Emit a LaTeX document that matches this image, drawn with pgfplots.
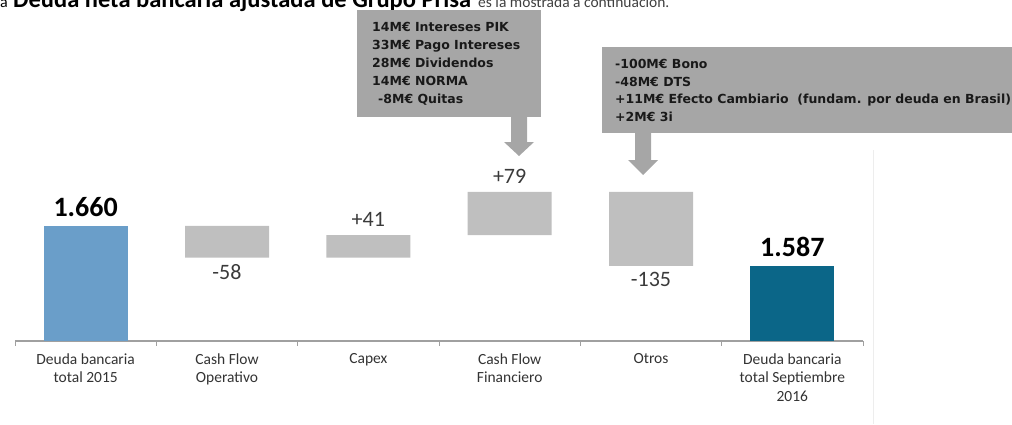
\documentclass[border=0pt]{standalone}
\usepackage{pgfplots}
\pgfplotsset{compat=1.18}
\usepackage{pgfplotstable}
\usepackage{fontspec}
\setmainfont{Carlito}
\newfontfamily\annfont{DejaVu Sans}
\definecolor{blueA}{HTML}{6A9EC9}
\definecolor{blueB}{HTML}{0B6688}
\definecolor{barGray}{HTML}{BFBFBF}
\definecolor{boxGray}{HTML}{A6A6A6}
\definecolor{axisGray}{HTML}{A0A0A0}
\definecolor{valText}{HTML}{3A3A3A}

\pgfplotstableread{
x base delta first last
0 0 0 1660 0
1 1602 58 0 0
2 1602 41 0 0
3 1643 79 0 0
4 1587 135 0 0
5 0 0 0 1587
}\wf

\begin{document}
\begin{tikzpicture}
\useasboundingbox (0pt,0pt) rectangle (1012pt,424pt);
\clip (0pt,0pt) rectangle (1012pt,424pt);
% cut-off line of text at the top
\node[anchor=base west, inner sep=0] at (0pt,416pt) {\fontsize{16}{18}\selectfont a};
\node[anchor=base west, inner sep=0] at (13pt,416pt) {\fontsize{24.5}{26}\selectfont\bfseries Deuda neta bancaria ajustada de Grupo Prisa};
\node[anchor=base west, inner sep=0, text=black!75] at (478pt,416pt) {\fontsize{15.5}{18}\selectfont es la mostrada a continuación.};

\draw[color=black!7, line width=1pt] (873pt,0pt) -- (873pt,274pt);

\begin{axis}[
  at={(15pt,83pt)}, anchor=south west,
  scale only axis, width=848pt, height=191.8pt,
  xmin=-0.5, xmax=5.5, ymin=1450, ymax=1800,
  enlargelimits=false,
  ybar stacked, bar width=84pt,
  axis x line*=bottom, axis y line=none,
  axis line style={draw=axisGray, line width=1.2pt},
  xtick={0,...,5},
  xticklabels={{Deuda bancaria\\total 2015},{Cash Flow\\Operativo},{Capex},{Cash Flow\\Financiero},{Otros},{Deuda bancaria\\total Septiembre\\2016}},
  major tick length=0pt,
  minor xtick={-0.5,0.5,...,5.5},
  minor tick length=5pt, tick align=outside,
  minor tick style={draw=axisGray, line width=1pt},
  xticklabel style={font=\fontsize{15.5}{18.5}\selectfont, align=center, anchor=north, text=black!80, yshift=-9pt},
]
\addplot[draw=none, fill=none] table[x=x, y=base] {\wf};
\addplot[draw=none, fill=barGray] table[x=x, y=delta] {\wf};
\addplot[draw=none, fill=blueA] table[x=x, y=first] {\wf};
\addplot[draw=none, fill=blueB] table[x=x, y=last] {\wf};

\node[anchor=base, inner sep=0, font=\bfseries\fontsize{28}{30}\selectfont, yshift=9pt] at (axis cs:0,1660) {1.660};
\node[anchor=base, inner sep=0, font=\bfseries\fontsize{28}{30}\selectfont, yshift=9pt] at (axis cs:5,1587) {1.587};
\node[anchor=base, inner sep=0, text=valText, font=\fontsize{22}{24}\selectfont, yshift=-22pt] at (axis cs:1,1602) {-58};
\node[anchor=base, inner sep=0, text=valText, font=\fontsize{22}{24}\selectfont, yshift=9pt] at (axis cs:2,1643) {+41};
\node[anchor=base, inner sep=0, text=valText, font=\fontsize{22}{24}\selectfont, yshift=8pt] at (axis cs:3,1722) {+79};
\node[anchor=base, inner sep=0, text=valText, font=\fontsize{22}{24}\selectfont, yshift=-21pt] at (axis cs:4,1587) {-135};
\end{axis}

% annotation boxes and arrows
\fill[boxGray] (357pt,307pt) rectangle (541pt,414pt);
\fill[boxGray] (511pt,308pt) -- (511pt,282pt) -- (504pt,282pt) -- (519pt,268pt) -- (534pt,282pt) -- (527pt,282pt) -- (527pt,308pt) -- cycle;
\fill[boxGray] (602pt,291pt) rectangle (1015pt,377pt);
\fill[boxGray] (635pt,292pt) -- (635pt,264pt) -- (628pt,264pt) -- (643pt,249pt) -- (658pt,264pt) -- (651pt,264pt) -- (651pt,292pt) -- cycle;

\begin{scope}[every node/.style={anchor=base west, inner sep=0, font=\annfont\bfseries\fontsize{12.5}{15}\selectfont, text=black!90}]
\node at (372pt,392.7pt) {14M€ Intereses PIK};
\node at (372pt,374.4pt) {33M€ Pago Intereses};
\node at (372pt,356.1pt) {28M€ Dividendos};
\node at (372pt,338.4pt) {14M€ NORMA};
\node at (378pt,320.4pt) {-8M€ Quitas};
\node at (615pt,355.4pt) {-100M€ Bono};
\node at (615pt,337.7pt) {-48M€ DTS};
\node at (615pt,320.1pt) {+11M€ Efecto Cambiario~ (fundam. por deuda en Brasil)};
\node at (615pt,302.1pt) {+2M€ 3i};
\end{scope}
\end{tikzpicture}
\end{document}
